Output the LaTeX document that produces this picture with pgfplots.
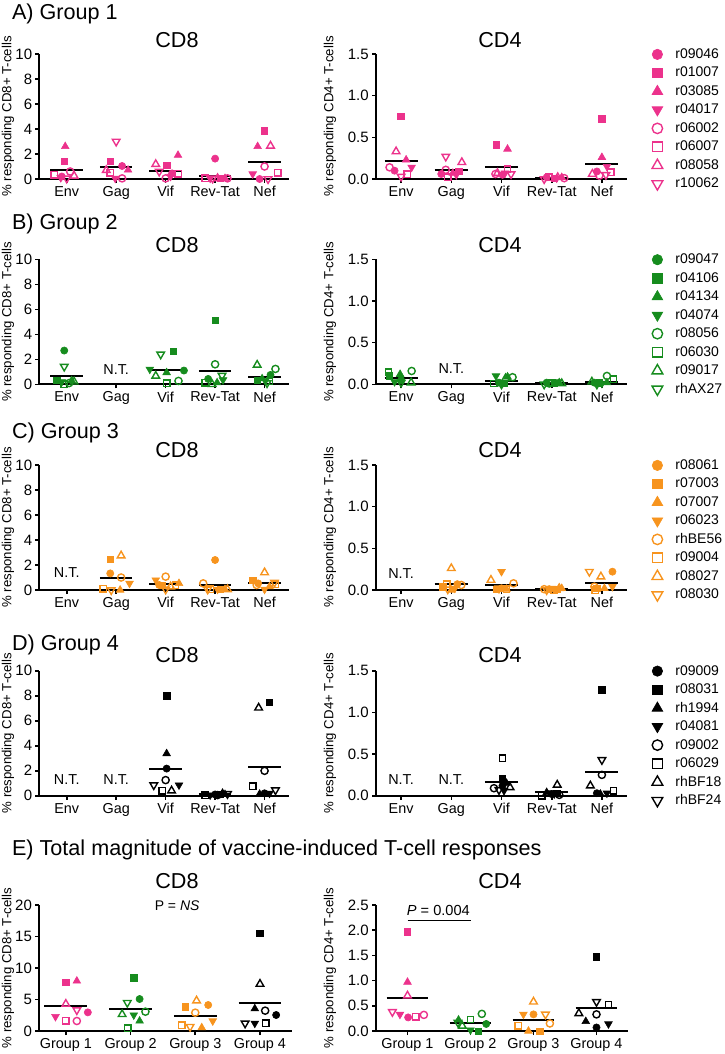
\documentclass[border=0pt]{standalone}
\usepackage{fontspec}
\setmainfont{Liberation Sans}
\usepackage{pgfplots}
\pgfplotsset{compat=1.18}
\definecolor{pk}{RGB}{236,50,140}
\definecolor{gn}{RGB}{22,140,30}
\definecolor{og}{RGB}{247,148,30}
\definecolor{bk}{RGB}{0,0,0}
\newcommand{\fs}[1]{\fontsize{#1}{#1}\selectfont}
\pgfplotsset{
 mkA/.style={only marks, mark=*, mark size=1.8pt, color=#1, mark options={solid, fill=#1, line width=0.3pt}},
 mkB/.style={only marks, mark=square*, mark size=1.6pt, color=#1, mark options={solid, fill=#1, line width=0.3pt}},
 mkC/.style={only marks, mark=triangle*, mark size=2.2pt, color=#1, mark options={solid, fill=#1, line width=0.3pt}},
 mkD/.style={only marks, mark=triangle*, mark size=2.2pt, color=#1, mark options={solid, fill=#1, line width=0.3pt, rotate=180}},
 mkE/.style={only marks, mark=o, mark size=1.8pt, color=#1, mark options={solid, line width=0.7pt}},
 mkF/.style={only marks, mark=square, mark size=1.6pt, color=#1, mark options={solid, line width=0.7pt}},
 mkG/.style={only marks, mark=triangle, mark size=2.2pt, color=#1, mark options={solid, line width=0.7pt}},
 mkH/.style={only marks, mark=triangle, mark size=2.2pt, color=#1, mark options={solid, line width=0.7pt, rotate=180}},
 meanline/.style={black, line width=1pt, unbounded coords=jump, forget plot, mark=none},
 base/.style={scale only axis, height=62.5pt, anchor=south west,
   axis lines*=left, axis line style={line width=1pt, black, -},
   tick style={line width=0.8pt, black}, major tick length=2pt, tick align=outside,
   clip=false, ymin=0,
   /pgf/number format/assume math mode=true,
   yticklabel style={font=\fs{7.5}, inner sep=1.5pt},
   xticklabel style={font=\fs{7.2}, inner sep=1.5pt},
   ylabel style={anchor=center, font=\fs{6.6}}},
 cd8/.style={base, width=124.9pt, xmin=-0.55, xmax=4.5, ymax=10,
   xtick={0,1,2,3,4}, xticklabels={Env,Gag,Vif,Rev-Tat,Nef},
   ytick={0,2,4,6,8,10}, yticklabels={0,2,4,6,8,10},
   ylabel={\% responding CD8+ T-cells}, ylabel style={at={(axis description cs:-0.126,0.5)}}},
 cd4/.style={base, width=125.5pt, xmin=-0.5, xmax=4.5, ymax=1.5,
   xtick={0,1,2,3,4}, xticklabels={Env,Gag,Vif,Rev-Tat,Nef},
   ytick={0,0.5,1,1.5}, yticklabels={0.0,0.5,1.0,1.5},
   ylabel={\% responding CD4+ T-cells}, ylabel style={at={(axis description cs:-0.183,0.5)}},
   legend image code/.code={\path[draw=none, fill=none] (0pt,-3pt) rectangle (10pt,3pt); \draw[#1] plot coordinates {(5pt,0pt)};},
   legend cell align=left,
   legend style={at={(axis description cs:1,1)}, anchor=north west, xshift=10pt, yshift=4pt,
     draw=none, fill=none, inner sep=0pt, font=\fs{7}, column sep=3pt, row sep=1.25pt,
     nodes={inner sep=1pt, text height=5pt, text depth=1pt}}},
}
\newcommand{\tfont}{\fs{10.8}}
\begin{document}
\begin{tikzpicture}
\path[use as bounding box] (0pt,0pt) rectangle (362pt,-527pt);
% ---------- titles ----------
\node[anchor=base west, font=\tfont] at (5*0.5pt,-20*0.5pt) {A) Group 1};
\node[anchor=base west, font=\tfont] at (5*0.5pt,-229*0.5pt) {B) Group 2};
\node[anchor=base west, font=\tfont] at (5*0.5pt,-438*0.5pt) {C) Group 3};
\node[anchor=base west, font=\tfont] at (5*0.5pt,-650*0.5pt) {D) Group 4};
\node[anchor=base west, font=\tfont] at (5*0.5pt,-855*0.5pt) {E) Total magnitude of vaccine-induced T-cell responses};
\node[anchor=base, font=\tfont] at (177*0.5pt,-48*0.5pt) {CD8};
\node[anchor=base, font=\tfont] at (500*0.5pt,-48*0.5pt) {CD4};
\node[anchor=base, font=\tfont] at (177*0.5pt,-252*0.5pt) {CD8};
\node[anchor=base, font=\tfont] at (500*0.5pt,-252*0.5pt) {CD4};
\node[anchor=base, font=\tfont] at (177*0.5pt,-457*0.5pt) {CD8};
\node[anchor=base, font=\tfont] at (500*0.5pt,-457*0.5pt) {CD4};
\node[anchor=base, font=\tfont] at (177*0.5pt,-662*0.5pt) {CD8};
\node[anchor=base, font=\tfont] at (500*0.5pt,-662*0.5pt) {CD4};
\node[anchor=base, font=\tfont] at (177*0.5pt,-888*0.5pt) {CD8};
\node[anchor=base, font=\tfont] at (500*0.5pt,-888*0.5pt) {CD4};

% ================= A CD8 =================
\begin{axis}[cd8, at={(39.5*0.5pt,-179*0.5pt)}]
\addplot[mkA=pk, forget plot] coordinates {(-0.1,0.2) (1.12,1.04) (2.13,0.45) (3.0,1.63) (3.9,0.0)};
\addplot[mkB=pk, forget plot] coordinates {(-0.05,1.42) (0.88,1.42) (2.02,1.1) (3.1,0.05) (4.0,3.85)};
\addplot[mkC=pk, forget plot] coordinates {(-0.03,2.6) (1.24,0.72) (2.25,1.9) (3.2,0.05) (3.86,2.6)};
\addplot[mkD=pk, forget plot] coordinates {(-0.12,0.1) (0.98,0.05) (2.1,0.2) (2.9,0.05) (3.76,0.4)};
\addplot[mkE=pk, forget plot] coordinates {(0.07,0.6) (1.12,0.05) (2.0,0.05) (3.25,0.05) (4.0,1.0)};
\addplot[mkF=pk, forget plot] coordinates {(-0.25,0.35) (0.88,0.5) (2.25,0.4) (2.8,0.05) (4.27,0.5)};
\addplot[mkG=pk, forget plot] coordinates {(0.15,0.25) (0.8,0.7) (1.8,1.18) (3.05,0.05) (4.12,2.65)};
\addplot[mkH=pk, forget plot] coordinates {(0.0,0.05) (1.0,3.0) (1.87,0.6) (2.95,0.05) (4.07,0.0)};
\addplot[meanline] coordinates {(-0.33,0.72) (0.33,0.72) (0.5,nan) (0.67,0.94) (1.33,0.94) (1.5,nan) (1.67,0.67) (2.33,0.67) (2.5,nan) (2.67,0.24) (3.33,0.24) (3.5,nan) (3.67,1.34) (4.33,1.34)};
\end{axis}
% ================= A CD4 =================
\begin{axis}[cd4, at={(376*0.5pt,-179*0.5pt)}]
\addplot[mkA=pk, forget plot] coordinates {(-0.13,0.1) (0.8,0.06) (2.02,0.05) (2.9,0.02) (3.9,0.09)};
\addplot[mkB=pk, forget plot] coordinates {(-0.01,0.75) (1.15,0.09) (1.9,0.41) (3.05,0.01) (4.0,0.72)};
\addplot[mkC=pk, forget plot] coordinates {(0.1,0.23) (1.03,0.07) (2.12,0.36) (3.2,0.02) (4.0,0.26)};
\addplot[mkD=pk, forget plot] coordinates {(0.21,0.14) (1.1,0.05) (2.07,0.07) (3.1,0.01) (4.1,0.15)};
\addplot[mkE=pk, forget plot] coordinates {(-0.23,0.14) (0.89,0.11) (1.88,0.06) (3.25,0.01) (3.95,0.04)};
\addplot[mkF=pk, forget plot] coordinates {(0.12,0.06) (0.93,0.02) (2.12,0.12) (2.95,0.02) (4.18,0.08)};
\addplot[mkG=pk, forget plot] coordinates {(-0.1,0.33) (1.21,0.2) (1.92,0.07) (3.12,0.02) (3.81,0.06)};
\addplot[mkH=pk, forget plot] coordinates {(0.0,0.03) (0.89,0.27) (2.19,0.06) (2.85,0.0) (4.08,0.05)};
\addplot[meanline] coordinates {(-0.33,0.22) (0.33,0.22) (0.5,nan) (0.67,0.105) (1.33,0.105) (1.5,nan) (1.67,0.14) (2.33,0.14) (2.5,nan) (2.67,0.01) (3.33,0.01) (3.5,nan) (3.67,0.176) (4.33,0.176)};
\addlegendimage{mkA=pk, mark size=2.6pt}\addlegendentry{r09046}
\addlegendimage{mkB=pk, mark size=2.4pt}\addlegendentry{r01007}
\addlegendimage{mkC=pk, mark size=3.1pt}\addlegendentry{r03085}
\addlegendimage{mkD=pk, mark size=3.1pt}\addlegendentry{r04017}
\addlegendimage{mkE=pk, mark size=2.6pt}\addlegendentry{r06002}
\addlegendimage{mkF=pk, mark size=2.4pt}\addlegendentry{r06007}
\addlegendimage{mkG=pk, mark size=3.1pt}\addlegendentry{r08058}
\addlegendimage{mkH=pk, mark size=3.1pt}\addlegendentry{r10062}
\end{axis}

% ================= B CD8 =================
\begin{axis}[cd8, at={(39.5*0.5pt,-384.3*0.5pt)}]
\addplot[mkA=gn, forget plot] coordinates {(-0.05,2.7) (2.37,1.1) (2.86,0.43) (4.12,0.75)};
\addplot[mkB=gn, forget plot] coordinates {(-0.2,0.3) (2.15,2.63) (3.0,5.12) (3.85,0.3)};
\addplot[mkC=gn, forget plot] coordinates {(0.1,0.3) (2.02,0.94) (3.04,0.13) (3.95,0.45)};
\addplot[mkD=gn, forget plot] coordinates {(-0.1,0.2) (1.68,1.2) (3.16,0.35) (4.02,0.3)};
\addplot[mkE=gn, forget plot] coordinates {(0.05,0.1) (2.26,0.27) (3.0,1.6) (4.22,1.23)};
\addplot[mkF=gn, forget plot] coordinates {(-0.05,0.0) (2.02,0.08) (2.8,0.13) (4.1,0.25)};
\addplot[mkG=gn, forget plot] coordinates {(0.15,0.2) (1.8,0.67) (2.94,0.0) (3.85,1.55)};
\addplot[mkH=gn, forget plot] coordinates {(-0.05,1.42) (1.9,2.4) (3.14,0.7) (4.05,0.1)};
\addplot[meanline] coordinates {(-0.33,0.67) (0.33,0.67) (0.5,nan) (1.67,1.15) (2.33,1.15) (2.5,nan) (2.67,1.05) (3.33,1.05) (3.5,nan) (3.67,0.62) (4.33,0.62)};
\node[font=\fs{7.2}] at (axis cs:1,1.15) {N.T.};
\end{axis}
% ================= B CD4 =================
\begin{axis}[cd4, at={(376*0.5pt,-384.3*0.5pt)}]
\addplot[mkA=gn, forget plot] coordinates {(0.0,0.05) (1.95,0.02) (2.9,0.02) (3.85,0.02)};
\addplot[mkB=gn, forget plot] coordinates {(-0.23,0.1) (2.05,0.01) (3.05,0.01) (3.95,0.02)};
\addplot[mkC=gn, forget plot] coordinates {(-0.02,0.12) (2.12,0.09) (3.15,0.02) (4.1,0.02)};
\addplot[mkD=gn, forget plot] coordinates {(-0.13,0.03) (1.89,0.1) (3.1,0.03) (4.0,0.01)};
\addplot[mkE=gn, forget plot] coordinates {(0.21,0.16) (2.22,0.085) (2.95,0.01) (4.1,0.1)};
\addplot[mkF=gn, forget plot] coordinates {(-0.25,0.145) (1.85,0.01) (3.0,0.02) (4.23,0.06)};
\addplot[mkG=gn, forget plot] coordinates {(0.2,0.02) (2.08,0.07) (3.2,0.01) (3.8,0.03)};
\addplot[mkH=gn, forget plot] coordinates {(0.0,0.02) (2.0,0.0) (2.85,0.0) (3.9,0.0)};
\addplot[meanline] coordinates {(-0.33,0.072) (0.33,0.072) (0.5,nan) (1.67,0.04) (2.33,0.04) (2.5,nan) (2.67,0.015) (3.33,0.015) (3.5,nan) (3.67,0.03) (4.33,0.03)};
\node[font=\fs{7.2}] at (axis cs:1,0.19) {N.T.};
\addlegendimage{mkA=gn, mark size=2.6pt}\addlegendentry{r09047}
\addlegendimage{mkB=gn, mark size=2.4pt}\addlegendentry{r04106}
\addlegendimage{mkC=gn, mark size=3.1pt}\addlegendentry{r04134}
\addlegendimage{mkD=gn, mark size=3.1pt}\addlegendentry{r04074}
\addlegendimage{mkE=gn, mark size=2.6pt}\addlegendentry{r08056}
\addlegendimage{mkF=gn, mark size=2.4pt}\addlegendentry{r06030}
\addlegendimage{mkG=gn, mark size=3.1pt}\addlegendentry{r09017}
\addlegendimage{mkH=gn, mark size=3.1pt}\addlegendentry{rhAX27}
\end{axis}

% ================= C CD8 =================
\begin{axis}[cd8, at={(39.5*0.5pt,-590*0.5pt)}]
\addplot[mkA=og, forget plot] coordinates {(0.88,1.33) (1.87,0.4) (3.0,2.4) (3.87,0.53)};
\addplot[mkB=og, forget plot] coordinates {(0.88,2.45) (1.93,0.4) (3.1,0.05) (3.76,0.8)};
\addplot[mkC=og, forget plot] coordinates {(1.08,0.0) (2.27,0.53) (3.2,0.05) (4.1,0.27)};
\addplot[mkD=og, forget plot] coordinates {(1.27,0.53) (1.8,0.8) (3.05,0.05) (4.0,0.05)};
\addplot[mkE=og, forget plot] coordinates {(1.1,1.0) (2.0,1.07) (2.76,0.53) (3.84,0.4)};
\addplot[mkF=og, forget plot] coordinates {(0.74,0.1) (2.2,0.37) (2.9,0.05) (4.22,0.45)};
\addplot[mkG=og, forget plot] coordinates {(1.1,2.75) (2.1,0.27) (3.25,0.05) (4.0,1.4)};
\addplot[mkH=og, forget plot] coordinates {(0.9,0.0) (2.0,0.05) (2.85,0.05) (4.2,0.6)};
\addplot[meanline] coordinates {(0.67,0.99) (1.33,0.99) (1.5,nan) (1.67,0.45) (2.33,0.45) (2.5,nan) (2.67,0.4) (3.33,0.4) (3.5,nan) (3.67,0.53) (4.33,0.53)};
\node[font=\fs{7.2}] at (axis cs:0,1.4) {N.T.};
\end{axis}
% ================= C CD4 =================
\begin{axis}[cd4, at={(376*0.5pt,-590*0.5pt)}]
\addplot[mkA=og, forget plot] coordinates {(1.12,0.07) (2.0,0.02) (2.95,0.01) (4.21,0.22)};
\addplot[mkB=og, forget plot] coordinates {(0.83,0.04) (1.9,0.01) (3.1,0.01) (3.9,0.02)};
\addplot[mkC=og, forget plot] coordinates {(1.0,0.0) (2.1,0.01) (3.2,0.02) (4.05,0.02)};
\addplot[mkD=og, forget plot] coordinates {(1.07,0.02) (2.0,0.22) (3.0,0.02) (4.21,0.04)};
\addplot[mkE=og, forget plot] coordinates {(1.2,0.06) (2.24,0.08) (2.85,0.01) (3.85,0.04)};
\addplot[mkF=og, forget plot] coordinates {(0.91,0.07) (2.1,0.01) (3.05,0.0) (3.87,0.0)};
\addplot[mkG=og, forget plot] coordinates {(1.0,0.26) (1.79,0.12) (3.15,0.02) (3.98,0.16)};
\addplot[mkH=og, forget plot] coordinates {(0.93,0.01) (1.95,0.02) (2.9,0.0) (3.75,0.22)};
\addplot[meanline] coordinates {(0.67,0.068) (1.33,0.068) (1.5,nan) (1.67,0.06) (2.33,0.06) (2.5,nan) (2.67,0.012) (3.33,0.012) (3.5,nan) (3.67,0.08) (4.33,0.08)};
\node[font=\fs{7.2}] at (axis cs:0,0.2) {N.T.};
\addlegendimage{mkA=og, mark size=2.6pt}\addlegendentry{r08061}
\addlegendimage{mkB=og, mark size=2.4pt}\addlegendentry{r07003}
\addlegendimage{mkC=og, mark size=3.1pt}\addlegendentry{r07007}
\addlegendimage{mkD=og, mark size=3.1pt}\addlegendentry{r06023}
\addlegendimage{mkE=og, mark size=2.6pt}\addlegendentry{rhBE56}
\addlegendimage{mkF=og, mark size=2.4pt}\addlegendentry{r09004}
\addlegendimage{mkG=og, mark size=3.1pt}\addlegendentry{r08027}
\addlegendimage{mkH=og, mark size=3.1pt}\addlegendentry{r08030}
\end{axis}

% ================= D CD8 =================
\begin{axis}[cd8, at={(39.5*0.5pt,-795.7*0.5pt)}]
\addplot[mkA=bk, forget plot] coordinates {(2.02,2.17) (3.0,0.1) (4.0,0.19)};
\addplot[mkB=bk, forget plot] coordinates {(2.02,8.0) (3.1,0.1) (4.1,7.48)};
\addplot[mkC=bk, forget plot] coordinates {(2.02,3.37) (3.2,0.1) (3.9,0.13)};
\addplot[mkD=bk, forget plot] coordinates {(2.27,0.85) (2.9,0.05) (4.1,0.19)};
\addplot[mkE=bk, forget plot] coordinates {(2.0,1.25) (3.05,0.05) (4.0,1.99)};
\addplot[mkF=bk, forget plot] coordinates {(1.93,0.4) (2.8,0.05) (3.76,0.77)};
\addplot[mkG=bk, forget plot] coordinates {(2.12,0.4) (3.15,0.15) (3.88,7.03)};
\addplot[mkH=bk, forget plot] coordinates {(1.76,0.85) (3.25,0.15) (4.22,0.45)};
\addplot[meanline] coordinates {(1.67,2.17) (2.33,2.17) (2.5,nan) (2.67,0.1) (3.33,0.1) (3.5,nan) (3.67,2.3) (4.33,2.3)};
\node[font=\fs{7.2}] at (axis cs:0,1.33) {N.T.};
\node[font=\fs{7.2}] at (axis cs:1,1.33) {N.T.};
\end{axis}
% ================= D CD4 =================
\begin{axis}[cd4, at={(376*0.5pt,-795.7*0.5pt)}]
\addplot[mkA=bk, forget plot] coordinates {(2.02,0.12) (3.0,0.02) (3.9,0.03)};
\addplot[mkB=bk, forget plot] coordinates {(2.02,0.21) (3.1,0.03) (4.0,1.27)};
\addplot[mkC=bk, forget plot] coordinates {(2.1,0.15) (2.9,0.04) (3.97,0.02)};
\addplot[mkD=bk, forget plot] coordinates {(2.05,0.06) (3.05,0.02) (4.1,0.03)};
\addplot[mkE=bk, forget plot] coordinates {(1.85,0.09) (3.15,0.01) (4.0,0.25)};
\addplot[mkF=bk, forget plot] coordinates {(2.02,0.45) (2.8,0.0) (4.23,0.06)};
\addplot[mkG=bk, forget plot] coordinates {(2.17,0.1) (3.11,0.13) (3.77,0.12)};
\addplot[mkH=bk, forget plot] coordinates {(1.95,0.07) (3.0,0.03) (4.0,0.43)};
\addplot[meanline] coordinates {(1.67,0.16) (2.33,0.16) (2.5,nan) (2.67,0.04) (3.33,0.04) (3.5,nan) (3.67,0.28) (4.33,0.28)};
\node[font=\fs{7.2}] at (axis cs:0,0.195) {N.T.};
\node[font=\fs{7.2}] at (axis cs:1,0.195) {N.T.};
\addlegendimage{mkA=bk, mark size=2.6pt}\addlegendentry{r09009}
\addlegendimage{mkB=bk, mark size=2.4pt}\addlegendentry{r08031}
\addlegendimage{mkC=bk, mark size=3.1pt}\addlegendentry{rh1994}
\addlegendimage{mkD=bk, mark size=3.1pt}\addlegendentry{r04081}
\addlegendimage{mkE=bk, mark size=2.6pt}\addlegendentry{r09002}
\addlegendimage{mkF=bk, mark size=2.4pt}\addlegendentry{r06029}
\addlegendimage{mkG=bk, mark size=3.1pt}\addlegendentry{rhBF18}
\addlegendimage{mkH=bk, mark size=3.1pt}\addlegendentry{rhBF24}
\end{axis}

% ================= E CD8 =================
\begin{axis}[base, height=63pt, width=126.2pt, at={(39.3*0.5pt,-1031*0.5pt)},
  xmin=-0.41, xmax=3.49, ymax=20,
  xtick={0,1,2,3}, xticklabels={Group 1,Group 2,Group 3,Group 4},
  ytick={0,5,10,15,20}, yticklabels={0,5,10,15,20},
  ylabel={\% responding CD8+ T-cells}, ylabel style={at={(axis description cs:-0.124,0.5)}}]
\addplot[mkA=pk, forget plot] coordinates {(0.34,2.96)};
\addplot[mkB=pk, forget plot] coordinates {(0.0,7.72)};
\addplot[mkC=pk, forget plot] coordinates {(0.17,7.94)};
\addplot[mkD=pk, forget plot] coordinates {(-0.16,2.28)};
\addplot[mkE=pk, forget plot] coordinates {(0.17,1.59)};
\addplot[mkF=pk, forget plot] coordinates {(0.0,1.59)};
\addplot[mkG=pk, forget plot] coordinates {(0.0,4.29)};
\addplot[mkH=pk, forget plot] coordinates {(0.17,3.33)};
\addplot[mkA=gn, forget plot] coordinates {(1.14,5.08)};
\addplot[mkB=gn, forget plot] coordinates {(1.05,8.47)};
\addplot[mkC=gn, forget plot] coordinates {(1.14,1.59)};
\addplot[mkD=gn, forget plot] coordinates {(1.05,2.54)};
\addplot[mkE=gn, forget plot] coordinates {(1.23,3.07)};
\addplot[mkF=gn, forget plot] coordinates {(0.96,0.42)};
\addplot[mkG=gn, forget plot] coordinates {(0.87,2.65)};
\addplot[mkH=gn, forget plot] coordinates {(0.95,4.5)};
\addplot[mkA=og, forget plot] coordinates {(2.2,4.13)};
\addplot[mkB=og, forget plot] coordinates {(1.85,3.86)};
\addplot[mkC=og, forget plot] coordinates {(2.1,0.53)};
\addplot[mkD=og, forget plot] coordinates {(2.27,1.59)};
\addplot[mkE=og, forget plot] coordinates {(2.0,2.91)};
\addplot[mkF=og, forget plot] coordinates {(1.79,0.95)};
\addplot[mkG=og, forget plot] coordinates {(2.02,4.81)};
\addplot[mkH=og, forget plot] coordinates {(1.92,0.69)};
\addplot[mkA=bk, forget plot] coordinates {(3.25,2.54)};
\addplot[mkB=bk, forget plot] coordinates {(3.0,15.5)};
\addplot[mkC=bk, forget plot] coordinates {(2.92,3.54)};
\addplot[mkD=bk, forget plot] coordinates {(2.92,1.22)};
\addplot[mkE=bk, forget plot] coordinates {(3.08,3.23)};
\addplot[mkF=bk, forget plot] coordinates {(3.09,1.22)};
\addplot[mkG=bk, forget plot] coordinates {(3.0,7.46)};
\addplot[mkH=bk, forget plot] coordinates {(2.77,1.22)};
\addplot[meanline] coordinates {(-0.33,4.02) (0.33,4.02) (0.5,nan) (0.67,3.49) (1.33,3.49) (1.5,nan) (1.67,2.43) (2.33,2.43) (2.5,nan) (2.67,4.5) (3.33,4.5)};
\node[font=\fs{7}] at (axis cs:1.72,19.9) {P = \textit{NS}};
\end{axis}
% ================= E CD4 =================
\begin{axis}[base, height=63pt, width=126pt, at={(376*0.5pt,-1031*0.5pt)},
  xmin=-0.5, xmax=3.5, ymax=2.5,
  xtick={0,1,2,3}, xticklabels={Group 1,Group 2,Group 3,Group 4},
  ytick={0,0.5,1,1.5,2,2.5}, yticklabels={0.0,0.5,1.0,1.5,2.0,2.5},
  ylabel={\% responding CD4+ T-cells}, ylabel style={at={(axis description cs:-0.183,0.5)}}]
\addplot[mkA=pk, forget plot] coordinates {(0.01,0.27)};
\addplot[mkB=pk, forget plot] coordinates {(0.0,1.97)};
\addplot[mkC=pk, forget plot] coordinates {(0.0,0.97)};
\addplot[mkD=pk, forget plot] coordinates {(-0.12,0.33)};
\addplot[mkE=pk, forget plot] coordinates {(0.26,0.32)};
\addplot[mkF=pk, forget plot] coordinates {(0.13,0.28)};
\addplot[mkG=pk, forget plot] coordinates {(0.0,0.7)};
\addplot[mkH=pk, forget plot] coordinates {(-0.24,0.38)};
\addplot[mkA=gn, forget plot] coordinates {(1.25,0.14)};
\addplot[mkB=gn, forget plot] coordinates {(1.12,0.0)};
\addplot[mkC=gn, forget plot] coordinates {(0.81,0.22)};
\addplot[mkD=gn, forget plot] coordinates {(1.0,0.02)};
\addplot[mkE=gn, forget plot] coordinates {(1.18,0.34)};
\addplot[mkF=gn, forget plot] coordinates {(1.0,0.23)};
\addplot[mkG=gn, forget plot] coordinates {(0.87,0.1)};
\addplot[mkH=gn, forget plot] coordinates {(0.8,0.17)};
\addplot[mkA=og, forget plot] coordinates {(2.0,0.33)};
\addplot[mkB=og, forget plot] coordinates {(2.1,0.0)};
\addplot[mkC=og, forget plot] coordinates {(1.92,0.0)};
\addplot[mkD=og, forget plot] coordinates {(1.84,0.33)};
\addplot[mkE=og, forget plot] coordinates {(2.26,0.15)};
\addplot[mkF=og, forget plot] coordinates {(1.76,0.1)};
\addplot[mkG=og, forget plot] coordinates {(2.0,0.58)};
\addplot[mkH=og, forget plot] coordinates {(2.19,0.33)};
\addplot[mkA=bk, forget plot] coordinates {(3.0,0.07)};
\addplot[mkB=bk, forget plot] coordinates {(3.0,1.47)};
\addplot[mkC=bk, forget plot] coordinates {(2.83,0.19)};
\addplot[mkD=bk, forget plot] coordinates {(3.19,0.14)};
\addplot[mkE=bk, forget plot] coordinates {(3.0,0.33)};
\addplot[mkF=bk, forget plot] coordinates {(3.19,0.52)};
\addplot[mkG=bk, forget plot] coordinates {(2.72,0.35)};
\addplot[mkH=bk, forget plot] coordinates {(3.0,0.58)};
\addplot[meanline] coordinates {(-0.33,0.65) (0.33,0.65) (0.5,nan) (0.67,0.16) (1.33,0.16) (1.5,nan) (1.67,0.225) (2.33,0.225) (2.5,nan) (2.67,0.456) (3.33,0.456)};
\draw[black, line width=0.6pt] (axis cs:0,2.2) -- (axis cs:1,2.2);
\node[font=\fs{7.3}] at (axis cs:0.49,2.4) {\textit{P} = 0.004};
\end{axis}
\end{tikzpicture}
\end{document}
